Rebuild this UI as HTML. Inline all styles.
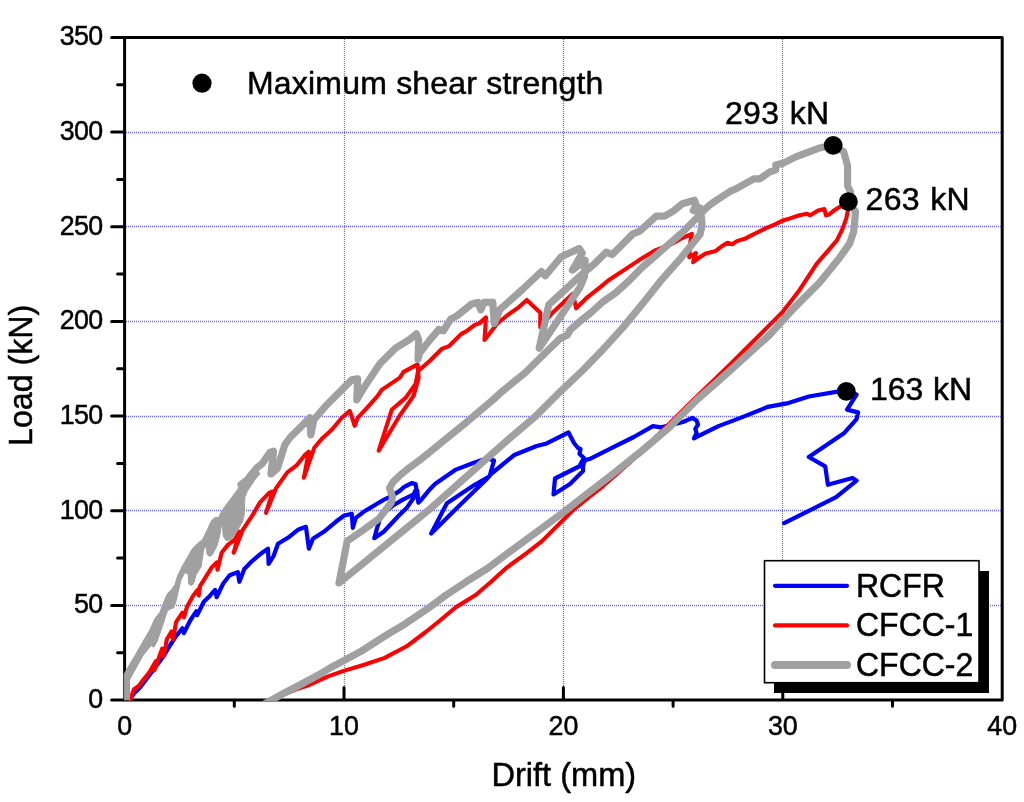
<!DOCTYPE html><html><head><meta charset="utf-8"><style>html,body{margin:0;padding:0;background:#fff;}svg{display:block;will-change:transform;}text{font-family:"Liberation Sans",sans-serif;fill:#000;stroke:#000;stroke-width:0.5px;}</style></head><body>
<svg width="1024" height="802" viewBox="0 0 1024 802">
<path d="M344.5 39V699M563.5 39V699M782.5 39V699M126 605.5H1001M126 510.5H1001M126 416.5H1001M126 321.5H1001M126 226.5H1001M126 132.5H1001" stroke="#4444ff" stroke-width="1.3" stroke-dasharray="1 1" fill="none" opacity="0.8"/>
<rect x="124.6" y="37.5" width="877.6" height="662.5" fill="none" stroke="#000" stroke-width="3" stroke-linejoin="round"/>
<path d="M111.6 700.0H123.6M111.6 605.4H123.6M111.6 510.7H123.6M111.6 416.1H123.6M111.6 321.4H123.6M111.6 226.8H123.6M111.6 132.1H123.6M111.6 37.5H123.6M117.6 652.7H123.6M117.6 558.0H123.6M117.6 463.4H123.6M117.6 368.7H123.6M117.6 274.1H123.6M117.6 179.5H123.6M117.6 84.8H123.6M344.0 699.0V687.5M563.4 699.0V687.5M782.8 699.0V687.5M234.3 701.0V706.2M453.7 701.0V706.2M673.1 701.0V706.2M892.5 701.0V706.2" stroke="#000" stroke-width="3" stroke-linecap="round" fill="none"/>
<defs><clipPath id="pc"><rect x="122" y="35" width="882" height="666.3"/></clipPath></defs><g clip-path="url(#pc)">
<path d="M130.2 699.0 L134.0 693.6 L140.0 687.6 L145.9 679.7 L151.9 671.7 L157.9 663.7 L163.9 655.7 L169.9 645.5 L176.1 636.1 L182.4 628.3 L183.9 633.0 L190.2 620.5 L196.4 611.2 L197.2 615.1 L203.8 601.8 L209.8 595.9 L215.1 589.9 L216.7 597.2 L223.2 583.5 L229.7 575.3 L237.8 572.1 L239.4 581.8 L244.3 568.9 L252.4 560.8 L260.0 554.3 L268.0 548.7 L268.6 564.0 L273.6 556.0 L278.0 543.7 L287.9 537.8 L297.9 529.8 L305.9 526.8 L308.9 548.7 L312.9 538.8 L323.8 531.8 L335.8 521.8 L343.8 515.8 L351.8 513.8 L352.8 527.8 L355.8 517.8 L363.7 511.8 L373.7 505.8 L383.7 499.9 L391.7 495.9 L399.7 490.9 L404.3 486.8 L408.0 485.0 L411.7 483.1 L415.5 484.0 L416.4 488.7 L413.6 494.3 L402.4 499.9 L393.0 505.5 L383.7 513.0 L380.0 518.6 L377.1 527.9 L374.3 538.2 L383.7 531.7 L397.7 516.7 L407.1 507.4 L413.6 498.0 L417.3 490.6 L418.3 502.7 L421.1 499.9 L430.4 488.7 L435.0 484.0 L455.9 469.6 L473.9 462.8 L487.3 458.3 L494.0 460.6 L489.6 476.3 L473.9 485.3 L446.9 503.2 L431.2 533.5 L460.0 505.0 L487.3 478.5 L491.0 474.0 L514.3 455.0 L536.7 446.0 L545.7 443.8 L568.5 432.5 L574.0 443.0 L578.0 448.0 L580.5 449.0 L579.5 454.0 L584.0 458.0 L581.0 463.0 L580.0 466.0 L555.0 478.5 L553.5 494.5 L570.0 484.0 L583.0 471.0 L583.0 467.0 L584.0 462.0 L587.0 459.5 L590.0 458.9 L611.9 447.9 L633.8 437.0 L652.9 426.1 L661.1 427.4 L672.0 424.7 L683.0 422.0 L692.5 417.9 L696.6 420.6 L698.0 424.7 L695.3 428.8 L696.6 432.9 L693.9 438.4 L704.8 432.9 L718.5 426.1 L740.4 417.9 L767.7 406.9 L786.9 403.4 L808.8 396.5 L836.1 391.9 L846.3 391.3 L856.6 394.6 L847.0 409.6 L858.0 412.4 L856.6 419.2 L844.3 432.9 L808.8 457.0 L825.2 466.3 L827.9 484.8 L852.5 478.0 L856.6 480.7 L836.1 497.2 L808.8 510.8 L784.1 523.1" fill="none" stroke="#00f" stroke-width="4.2" stroke-linejoin="round" stroke-linecap="round"/>
<path d="M130.4 699.0 L134.0 689.2 L138.7 686.0 L143.4 679.8 L149.6 672.0 L155.9 661.1 L154.3 670.4 L157.0 663.0 L162.1 648.6 L163.7 656.4 L166.8 639.3 L171.5 631.5 L173.0 639.3 L176.1 622.1 L182.4 612.7 L183.9 617.4 L187.1 606.5 L193.3 595.6 L198.0 589.4 L198.8 595.6 L200.0 586.2 L203.8 580.2 L211.9 567.2 L216.7 562.4 L217.5 569.7 L221.6 552.7 L228.1 544.6 L234.6 539.7 L239.4 531.6 L233.7 552.7 L242.7 530.0 L245.9 525.1 L252.4 515.4 L260.0 502.4 L269.4 492.6 L272.7 491.5 L266.0 512.8 L276.1 488.1 L287.3 472.4 L296.3 465.7 L305.3 454.5 L308.8 451.7 L303.9 477.7 L314.3 447.7 L321.8 438.8 L331.8 429.8 L341.8 417.8 L349.8 410.8 L354.7 425.8 L357.7 417.8 L369.7 404.8 L377.7 395.9 L381.7 389.9 L399.6 377.9 L403.6 371.9 L417.6 364.4 L418.6 378.0 L413.6 395.9 L399.6 415.8 L378.7 450.7 L391.7 409.8 L405.6 397.9 L415.6 383.9 L418.0 371.3 L429.9 360.8 L441.9 348.8 L449.4 345.8 L461.3 333.9 L465.8 331.6 L474.8 324.9 L479.3 323.4 L486.0 317.4 L484.5 339.9 L497.3 323.4 L507.7 315.0 L519.0 307.1 L526.8 300.0 L540.3 312.7 L540.3 327.3 L552.6 312.7 L572.8 293.7 L576.2 308.3 L586.3 298.2 L600.0 287.4 L608.2 280.5 L624.7 269.6 L638.4 260.6 L654.9 250.4 L670.0 244.9 L682.3 238.0 L691.9 233.9 L690.5 240.8 L689.2 257.2 L696.0 253.1 L693.1 262.2 L699.4 257.5 L705.6 253.6 L715.0 251.3 L721.3 246.6 L727.5 242.7 L732.2 244.2 L736.9 241.1 L744.7 238.8 L749.4 236.4 L757.2 232.5 L766.6 227.8 L774.4 224.7 L782.2 220.8 L790.0 218.4 L799.4 215.3 L807.2 213.8 L810.3 215.3 L818.1 210.6 L824.4 209.1 L825.9 215.3 L829.1 214.5 L833.8 210.6 L840.0 206.7 L848.6 201.8 L847.8 210.6 L846.3 218.4 L842.3 229.4 L836.9 240.3 L827.5 251.3 L816.6 263.8 L799.6 289.9 L782.2 312.4 L764.7 329.9 L739.8 354.8 L729.8 364.8 L688.7 404.4 L660.0 433.0 L629.4 463.0 L600.0 488.7 L590.9 495.7 L573.5 509.7 L556.0 527.1 L542.0 541.1 L526.3 553.3 L507.1 567.3 L489.7 583.0 L475.7 595.0 L470.0 598.5 L455.8 607.3 L439.4 621.0 L425.7 632.0 L406.6 646.3 L384.7 657.9 L364.2 664.8 L343.7 670.9 L328.1 676.4 L308.6 685.2 L296.9 689.1 L280.0 696.0" fill="none" stroke="#f00" stroke-width="4.1" stroke-linejoin="round" stroke-linecap="round"/>
<path d="M124.2 699.8 L124.2 674.0 L126.0 670.5 L129.5 664.5 L132.5 659.5 L135.6 654.5 L142.5 642.2 L149.9 629.8 L154.9 618.6 L159.9 612.3 L163.6 602.4 L167.4 593.6 L171.1 589.9 L174.9 584.9 L177.4 576.2 L182.3 566.2 L187.5 557.2 L192.5 548.5 L197.4 543.5 L202.4 539.8 L207.4 529.8 L211.2 521.1 L214.9 517.4 L218.6 517.4 L222.4 509.9 L229.8 499.9 L237.3 489.9 L241.1 483.7 L244.8 482.5 L249.8 477.5 L257.3 470.0 L260.0 473.7 L254.8 480.0 L247.3 491.2 L244.8 497.4 L244.2 514.9 L242.3 522.3 L236.1 532.3 L231.1 539.8 L226.1 540.4 L223.2 536.0 L222.4 524.0 L221.1 527.3 L219.9 534.8 L217.4 544.8 L212.4 554.7 L209.3 556.6 L207.0 554.0 L206.2 546.0 L203.7 549.8 L201.8 562.2 L201.5 566.0 L196.0 575.0 L193.6 583.7 L191.1 585.5 L188.6 583.7 L188.0 573.7 L184.8 572.5 L181.1 579.9 L178.6 589.9 L176.1 601.1 L173.6 608.0 L169.9 609.2 L167.4 611.1 L164.9 618.6 L161.2 629.8 L156.8 642.2 L153.7 647.2 L151.2 645.5 L143.4 654.9 L135.6 668.9 L129.5 680.0 L129.5 699.8Z" fill="#a0a0a0" stroke="#a0a0a0" stroke-width="1" stroke-linejoin="round"/>
<g fill="none" stroke="#a0a0a0" stroke-width="7.2" stroke-linejoin="round" stroke-linecap="round"><path d="M241.0 484.6 L247.5 479.7 L252.0 473.7 L257.3 467.4 L262.3 463.6 L269.8 452.4 L273.5 451.2 L271.0 474.0 L277.3 468.6 L284.8 444.9 L290.0 437.5 L297.9 429.8 L309.8 417.8 L310.8 434.8 L313.8 419.8 L325.8 405.8 L339.8 391.9 L351.8 379.9 L357.7 378.9 L356.7 399.8 L363.7 387.9 L379.7 363.9 L395.7 348.0 L409.0 339.9 L416.5 333.9 L418.7 339.9 L418.0 359.3 L419.5 353.3 L429.9 339.9 L438.9 329.4 L443.4 330.9 L450.9 318.9 L456.9 315.9 L471.8 303.9 L477.8 302.4 L480.8 309.9 L483.8 302.4 L492.8 302.4 L494.3 323.4 L500.0 309.5 L522.4 289.5 L541.4 271.5 L545.3 275.8 L561.2 256.7 L579.2 248.5 L582.2 253.0 L572.4 270.2 L585.2 260.4 L584.4 276.9 L579.9 287.4 L539.2 348.3 L548.8 304.6 L559.7 294.8 L579.9 276.1 L594.9 263.4 L606.1 252.2 L612.3 254.5 L620.6 246.2 L632.9 233.9 L639.8 231.2 L656.2 216.1 L664.5 216.1 L674.1 210.6 L682.3 203.7 L694.6 200.3 L696.0 205.1 L693.3 210.6 L697.0 211.0 L702.0 212.0 L709.3 205.3 L718.0 199.2 L730.0 191.4 L735.9 188.9 L753.8 178.9 L759.8 178.9 L769.8 171.9 L775.8 169.9 L775.8 164.9 L783.8 162.9 L795.8 156.9 L819.7 147.9 L832.7 144.9 L843.7 151.9 L847.6 165.9 L847.6 185.9 L850.6 191.8 L848.6 201.8 L855.6 211.8 L853.6 231.8 L849.6 243.7 L839.7 257.7 L819.6 282.5 L794.7 307.4 L769.7 334.9 L744.8 357.3 L719.8 379.8 L696.7 400.0 L669.8 426.9 L639.9 452.4 L609.9 476.3 L582.2 497.5 L564.7 511.4 L538.5 530.6 L512.4 549.8 L487.9 568.1 L466.7 581.4 L446.2 595.0 L425.7 610.1 L405.2 623.8 L384.7 636.1 L361.4 651.1 L343.7 660.7 L330.0 668.0 L318.4 675.0 L298.8 685.5 L280.0 695.3 L270.0 701.0 L266.0 703.0"/><path d="M700.1 207.8 L701.5 213.3 L696.0 218.8 L682.3 232.5 L661.7 250.4 L641.2 268.2 L629.8 280.0 L616.1 292.5 L603.6 301.2 L591.2 312.4 L578.7 322.4 L570.0 329.9 L567.5 334.9 L560.0 338.6 L537.5 360.5 L525.2 372.7 L501.0 392.4 L492.8 400.0 L467.3 421.6 L441.8 442.2 L429.9 452.0 L418.7 460.9 L407.4 469.2 L400.0 475.2 L393.2 481.9 L389.5 487.9 L392.5 497.0 L391.2 502.7 L379.0 518.6 L365.0 528.9 L347.2 541.1 L339.0 583.0 L430.0 509.0 L507.7 440.0 L534.7 417.1 L557.1 394.7 L583.1 370.0 L601.0 351.6 L623.5 326.9 L643.7 302.2 L661.6 279.8 L681.5 257.3 L700.0 234.5 L702.0 226.0 L701.5 217.4 L698.8 207.8"/></g>
</g>
<text x="102.6" y="707.8" font-size="26.8" letter-spacing="-0.6" text-anchor="end">0</text>
<text x="102.6" y="613.2" font-size="26.8" letter-spacing="-0.6" text-anchor="end">50</text>
<text x="102.6" y="518.5" font-size="26.8" letter-spacing="-0.6" text-anchor="end">100</text>
<text x="102.6" y="423.9" font-size="26.8" letter-spacing="-0.6" text-anchor="end">150</text>
<text x="102.6" y="329.2" font-size="26.8" letter-spacing="-0.6" text-anchor="end">200</text>
<text x="102.6" y="234.6" font-size="26.8" letter-spacing="-0.6" text-anchor="end">250</text>
<text x="102.6" y="139.9" font-size="26.8" letter-spacing="-0.6" text-anchor="end">300</text>
<text x="102.6" y="45.3" font-size="26.8" letter-spacing="-0.6" text-anchor="end">350</text>
<text x="124.6" y="735.3" font-size="26.8" text-anchor="middle">0</text>
<text x="344.0" y="735.3" font-size="26.8" text-anchor="middle">10</text>
<text x="563.4" y="735.3" font-size="26.8" text-anchor="middle">20</text>
<text x="782.8" y="735.3" font-size="26.8" text-anchor="middle">30</text>
<text x="1002.2" y="735.3" font-size="26.8" text-anchor="middle">40</text>
<text x="563.8" y="786.1" font-size="32.6" text-anchor="middle">Drift (mm)</text>
<text transform="translate(31.6,375.4) rotate(-90) scale(0.987,1)" x="0" y="0" font-size="32.6" text-anchor="middle">Load (kN)</text>
<circle cx="202" cy="83.2" r="9.6" fill="#000"/>
<text x="247" y="94" font-size="32" letter-spacing="0.2">Maximum shear strength</text>
<text x="725" y="124.1" font-size="32" word-spacing="1.3" letter-spacing="0.3">293 kN</text>
<text x="865.5" y="210.3" font-size="32" word-spacing="1" letter-spacing="0.35">263 kN</text>
<text x="870" y="399.8" font-size="32" word-spacing="0.8" letter-spacing="0">163 kN</text>
<circle cx="833.2" cy="145.3" r="9.4" fill="#000"/><circle cx="848.4" cy="201.7" r="9.4" fill="#000"/><circle cx="846.3" cy="391.3" r="9.4" fill="#000"/>
<rect x="774" y="571" width="215" height="122" fill="#000"/>
<rect x="764.5" y="560.7" width="214.5" height="122" fill="#fff" stroke="#000" stroke-width="1.6"/>
<path d="M775 585.8H847" stroke="#0000ff" stroke-width="4.2" stroke-linecap="round"/>
<path d="M775 625.4H847" stroke="#ff0000" stroke-width="4.2" stroke-linecap="round"/>
<path d="M775 665H847" stroke="#a0a0a0" stroke-width="8" stroke-linecap="round"/>
<text transform="translate(856,596.6) scale(1,1.04)" font-size="32">RCFR</text>
<text transform="translate(856,636.3) scale(1,1.04)" font-size="32">CFCC-1</text>
<text transform="translate(856,676) scale(1,1.04)" font-size="32">CFCC-2</text>
</svg></body></html>
